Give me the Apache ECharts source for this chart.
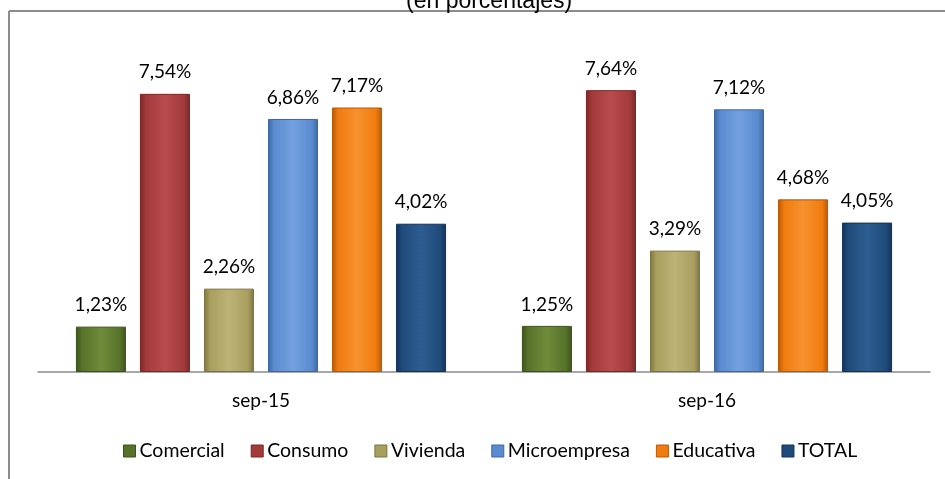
<!DOCTYPE html>
<html>
<head>
<meta charset="utf-8">
<script src="https://cdn.jsdelivr.net/npm/echarts@6/dist/echarts.min.js"></script>
<style>
html,body{margin:0;padding:0;background:#fff;}
#chart{width:945px;height:479px;}
</style>
</head>
<body>
<div id="chart"></div>
<script>
const categories = ['sep-15', 'sep-16'];
const seriesNames = ['Comercial', 'Consumo', 'Vivienda', 'Microempresa', 'Educativa', 'TOTAL'];
const comercial = [1.23, 1.25];
const consumo = [7.54, 7.64];
const vivienda = [2.26, 3.29];
const microempresa = [6.86, 7.12];
const educativa = [7.17, 4.68];
const total = [4.02, 4.05];
const titleText = '(en porcentajes)';

const values = [comercial, consumo, vivienda, microempresa, educativa, total];
const baseColors = ['#57722a', '#a33a3a', '#a89e5e', '#5a8bd0', '#f07b10', '#1f4b7a'];
const darkColors = ['#3d521b', '#7a2626', '#7d7540', '#3c67a3', '#b85a06', '#13325a'];
const lightColors = ['#6f8c3a', '#b84c4c', '#bdb377', '#73a0df', '#f7922e', '#2c5d90'];

const FONT = 'Lato, "Noto Sans", sans-serif';
const chart = echarts.init(document.getElementById('chart'), null, {renderer: 'canvas'});

function grad(i) {
  return new echarts.graphic.LinearGradient(0, 0, 1, 0, [
    {offset: 0, color: darkColors[i]},
    {offset: 0.12, color: baseColors[i]},
    {offset: 0.5, color: lightColors[i]},
    {offset: 0.88, color: baseColors[i]},
    {offset: 1, color: darkColors[i]}
  ]);
}

const series = seriesNames.map((name, i) => ({
  name: name,
  type: 'bar',
  data: values[i],
  barGap: '28%',
  barCategoryGap: '17%',
  itemStyle: {color: grad(i), borderColor: darkColors[i], borderWidth: 1},
  label: {
    show: true,
    position: 'top',
    distance: 12,
    fontFamily: FONT,
    fontSize: 19,
    color: '#000',
    formatter: p => p.value.toFixed(2).replace('.', ',') + '%'
  },
  emphasis: {disabled: true}
}));

chart.setOption({
  animation: false,
  title: {
    text: titleText,
    left: 401,
    top: -15,
    textStyle: {fontFamily: '"Liberation Sans", Arial, sans-serif', fontSize: 23, fontWeight: 'normal', color: '#000'}
  },
  graphic: [
    {type: 'line', shape: {x1: 9, y1: 11, x2: 945, y2: 11}, style: {stroke: '#8c8c8c', lineWidth: 2}},
    {type: 'line', shape: {x1: 9, y1: 11, x2: 9, y2: 479}, style: {stroke: '#8c8c8c', lineWidth: 2}}
  ],
  legend: {
    data: seriesNames.map((n, i) => ({name: n, itemStyle: {color: baseColors[i], borderColor: darkColors[i], borderWidth: 1}})),
    top: 436,
    left: 118,
    icon: 'rect',
    itemWidth: 12,
    itemHeight: 12,
    itemGap: 26,
    textStyle: {fontFamily: FONT, fontSize: 19.5, color: '#000', padding: [0, 0, 0, -1]}
  },
  grid: {left: 38, right: 15, top: 40, bottom: 107, containLabel: false},
  xAxis: {
    type: 'category',
    data: categories,
    axisLine: {lineStyle: {color: '#8c8c8c', width: 1.5}},
    axisTick: {show: false},
    axisLabel: {fontFamily: FONT, fontSize: 19, color: '#000', margin: 19}
  },
  yAxis: {
    type: 'value',
    min: 0,
    max: 9,
    show: false,
    splitLine: {show: false}
  },
  series: series
});
</script>
</body>
</html>
